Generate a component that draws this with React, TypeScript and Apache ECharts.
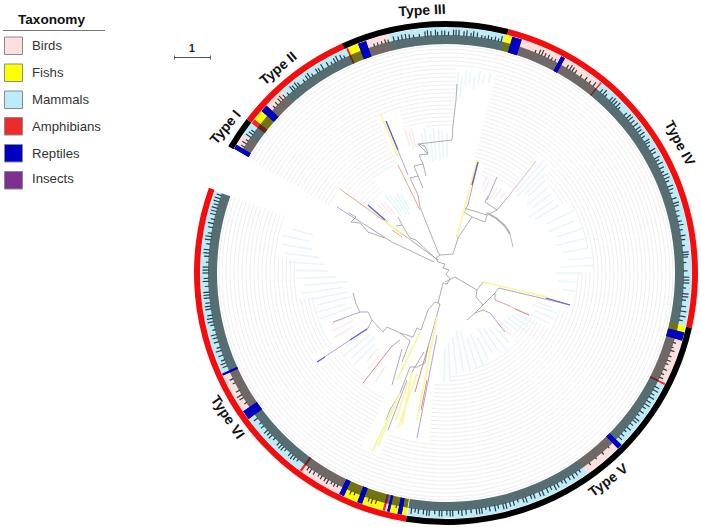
import React, { useEffect, useRef } from "react";
import * as echarts from "echarts";

const taxa = ["Birds", "Fishs", "Mammals", "Amphibians", "Reptiles", "Insects"];
const taxaColors = ["#FDE0DD", "#FFFF00", "#BCECFA", "#EE2A2A", "#0000C0", "#7F2F8F"];
const typeLabels = ["Type I", "Type II", "Type III", "Type IV", "Type V", "Type VI"];
const scaleLabel = "1";

// taxon band: [startAngle, endAngle, taxonIndex]
const bandSegments = [
  [300.4, 301.5, 4], [301.5, 304.5, 0], [304.5, 307.6, 2], [307.6, 308.8, 3], [308.8, 311.3, 1], [311.3, 313, 4],
  [313, 318, 0], [318, 336, 2], [336, 336.5, 3], [336.5, 339, 1], [339, 341, 4], [341, 346.5, 0], [346.5, 360, 2],
  [0, 14, 2], [14, 15.7, 1], [15.7, 18, 4], [18, 28, 0], [28, 29, 4], [29, 39, 0], [39, 39.4, 3],
  [39.4, 102.5, 2], [102.5, 104, 1], [104, 106, 4], [106, 116.7, 0], [116.7, 117.2, 3], [117.2, 134.4, 2],
  [134.4, 135.6, 4], [135.6, 144.8, 0], [144.8, 189.1, 2],
  [189.3, 190.4, 1], [190.4, 191.4, 4], [191.4, 193.3, 1], [193.3, 193.9, 4], [193.9, 194.4, 0], [194.4, 195, 3],
  [195, 200, 1], [200, 201.2, 4], [201.2, 204.6, 1], [204.6, 205.8, 4], [205.8, 216, 0], [216, 216.6, 3],
  [216.6, 233.5, 2], [233.5, 235.7, 4], [235.7, 245.3, 0], [245.3, 245.8, 4], [245.8, 289.6, 2],
];

// concentric leaf guides: where they begin, by sector [startAngle, endAngle, innerRadius]
const guideProfile = [
  [300, 309, 134], [309, 322, 104], [322, 336, 120], [336, 344, 172], [344, 352, 150], [352, 360, 145], [0, 3, 145],
  [3, 14, 206], [14, 20, 116], [20, 28, 102], [28, 38, 106], [38, 45, 150], [45, 60, 134], [60, 80, 144],
  [80, 90, 146], [90, 108, 130], [108, 118, 120], [118, 135, 92], [135, 165, 100], [165, 178, 103], [178, 186, 112],
  [186, 192, 172], [192, 200, 170], [200, 206, 195], [206, 218, 140], [218, 233, 132], [233, 238, 158],
  [238, 260, 135], [260, 275, 150], [275, 289.6, 170],
];
const guideRadii = [
  92, 96, 100, 104, 108, 112, 116, 120, 124, 128, 132, 136, 140, 144, 148, 152, 156, 160, 164, 168, 172, 176, 180, 184,
  188, 192, 196, 200, 204, 208, 212, 216, 220, 224, 227,
];

// small tick marks outside the dark band: [angle, length]
const bandTicks = [
  [302, 3], [302.9, 4], [303.7, 2], [304.8, 5], [305.6, 4], [306.3, 3],
  [314, 2], [315, 3], [316, 4], [316.7, 5], [317.5, 3], [318.6, 2], [320, 5], [320.6, 4], [321.4, 5], [322, 3], [323.5, 2], [324.5, 4],
  [325.2, 5], [326, 2], [327.4, 4], [328, 3], [329, 5], [330.4, 4], [331.4, 2], [332.3, 4], [333, 5], [334, 4], [334.8, 2],
  [342.5, 2], [343.4, 2], [344.4, 2], [345.3, 3], [346, 2], [347.4, 4], [348.5, 3], [349.4, 4], [350.3, 4], [351.2, 3], [352.2, 2], [353.6, 2],
  [355, 4], [355.6, 5], [356.4, 4], [357.5, 5], [358, 3], [359, 4], [359.7, 4], [0.6, 3], [1.8, 5], [2.4, 5], [3.1, 5], [4.3, 4], [5, 5], [6, 3],
  [6.6, 5], [7.5, 4], [8.6, 2], [9.4, 2], [10.2, 3], [11, 2], [11.9, 3], [12.7, 2], [13.4, 5],
  [22, 2], [23, 4], [23.7, 5], [24.5, 3], [25.4, 3], [26.3, 2], [27.2, 2], [30.5, 3], [31.3, 5], [32, 4], [32.8, 3], [34.4, 2], [35.8, 3], [37, 2], [38.2, 4],
  [40.5, 3], [41.3, 5], [42, 2], [43.5, 4], [44.2, 5], [44.9, 4], [45.7, 5], [46.4, 2], [48.5, 3], [49.4, 5], [50.1, 5], [51, 4], [52, 5], [53, 5], [53.7, 4],
  [54.6, 5], [55.4, 3], [56.6, 5], [57.2, 4], [58, 2], [59.2, 5], [60, 4], [61.3, 5], [62, 3], [62.9, 5], [64, 4], [65, 2], [65.9, 5], [66.7, 5], [67.5, 3],
  [68.8, 5], [69.6, 4], [70.5, 2], [71.9, 4], [73, 5], [73.7, 4], [75, 3], [76.2, 2], [77.5, 3], [78.4, 4], [79.6, 2], [81, 4], [82, 3], [83.4, 2],
  [85, 5], [85.6, 5], [86.2, 4], [87.5, 2], [89.5, 3], [91, 5], [91.7, 5], [92.4, 5], [93.6, 2], [95, 5], [95.7, 5], [96.5, 3], [98, 4], [99.2, 5], [100.4, 5], [101.4, 3],
  [107, 2], [108.2, 1], [109, 3], [110.4, 2], [111.5, 3], [112.4, 2], [113.8, 3], [115, 2], [116, 3],
  [118.5, 4], [119.4, 5], [120.4, 3], [121.3, 5], [122.4, 4], [123.3, 5], [124.2, 3], [125.4, 4], [126.4, 2], [127.5, 5], [128.2, 4], [129.2, 3], [130.4, 4], [131.4, 2], [132.5, 3], [133.5, 4],
  [137, 1], [139, 2], [141, 1], [143, 2],
  [146, 2], [147, 3], [148, 4], [149, 3], [150.2, 4], [151, 2], [152.2, 4], [153, 5], [154, 3], [155, 4], [156.2, 5], [157, 4], [158.4, 4], [159.2, 3], [160.5, 5], [161.2, 4],
  [162.5, 2], [163.6, 4], [164.5, 4], [165.5, 5], [166.2, 5], [167.4, 3], [168.2, 5], [169.5, 4], [170.4, 2], [171.4, 5], [172, 5], [172.7, 5], [174, 3], [175.2, 4], [176.2, 5], [177, 3],
  [178.4, 5], [179, 5], [179.8, 4], [181, 5], [181.6, 5], [182.7, 3], [184, 5], [184.6, 5], [185.4, 4], [186.6, 4], [187.4, 3], [188.3, 5],
  [192, 2], [197, 3], [198, 4], [198.8, 3], [202.5, 2], [203.5, 3],
  [207, 2], [207.8, 3], [208.6, 2], [209.6, 4], [210.4, 3], [211.4, 3], [212.2, 2], [213.4, 3], [214.4, 4], [215.2, 3],
  [218.4, 2], [219.3, 3], [220, 4], [220.8, 3], [222.2, 2], [223, 4], [223.7, 4], [224.5, 3], [226, 2], [227, 4], [227.8, 3], [228.6, 4], [230, 3], [231, 2], [232.4, 4],
  [237, 2], [238.4, 4], [239.2, 5], [240.4, 3], [242.5, 2], [243.6, 3],
  [247, 4], [247.8, 5], [248.6, 3], [249.8, 4], [251, 5], [251.8, 3], [253.2, 4], [254.2, 4], [255, 5], [256.2, 2], [257.4, 3], [258.2, 5], [259, 5], [259.8, 4],
  [261.3, 5], [262, 5], [262.8, 4], [264, 5], [264.7, 5], [265.4, 5], [266.8, 3], [268, 5], [268.7, 4], [270, 5], [270.7, 5], [271.4, 5], [272.6, 2],
  [274, 4], [274.8, 5], [275.6, 5], [277, 3], [278, 5], [278.8, 5], [279.6, 3], [281, 4], [282, 5], [283, 3], [284.2, 5], [285, 5], [285.8, 5], [286.6, 4], [287.4, 5], [288.2, 5], [289, 4],
];

// pale leaves of the tree: [angle, innerRadius, outerRadius, taxonIndex (0 pink, 2 blue)]
const paleLeaves = [
  [3.5, 182, 202, 2], [4.6, 176, 198, 2], [5.8, 188, 204, 2], [7, 190, 202, 2], [8.4, 186, 200, 2], [9.6, 190, 205, 2], [11, 192, 203, 2], [12.6, 194, 205, 2],
  [344, 132, 150, 0], [345.4, 128, 146, 0], [346.5, 130, 148, 0], [350, 118, 142, 2], [351.5, 116, 146, 2], [353.5, 112, 140, 2], [355, 114, 146, 2], [357, 112, 144, 2], [358.5, 116, 142, 2], [0.5, 116, 140, 2],
  [315, 82, 98, 0], [317, 80, 96, 0], [319, 78, 94, 0], [322, 72, 98, 2], [324, 74, 96, 2], [326, 70, 92, 2], [328, 68, 94, 2], [330, 72, 90, 2],
  [23, 92, 104, 0], [25, 90, 102, 0], [31, 86, 100, 0], [33, 88, 102, 0], [36, 92, 100, 0],
  [39, 100, 135, 2], [41, 108, 150, 2], [43, 104, 148, 2], [45, 110, 140, 2], [47, 112, 136, 2], [50, 106, 134, 2], [53, 108, 132, 2], [56, 100, 130, 2], [59, 104, 132, 2],
  [64, 112, 142, 2], [68, 110, 138, 2], [72, 116, 144, 2], [76, 114, 146, 2], [80, 118, 144, 2], [84, 122, 148, 2], [87, 114, 148, 2], [90, 110, 136, 2], [94, 112, 132, 2], [98, 118, 130, 2],
  [108, 96, 112, 0], [110, 92, 118, 2], [113, 96, 120, 2], [116, 90, 116, 2], [120, 82, 104, 2], [123, 78, 98, 2], [126, 76, 100, 2], [129, 74, 92, 2],
  [132, 70, 88, 0], [134, 72, 90, 0], [138, 72, 94, 2], [142, 70, 100, 2], [146, 66, 96, 2], [150, 64, 92, 2], [154, 72, 96, 2], [158, 66, 100, 2], [162, 68, 100, 2], [166, 60, 102, 2], [170, 58, 100, 2], [174, 64, 102, 2], [178, 70, 108, 2], [181, 76, 110, 2],
  [213, 112, 130, 0], [216, 108, 126, 0], [219, 106, 124, 0], [222, 102, 118, 0], [225, 100, 130, 2], [228, 96, 128, 2], [231, 98, 132, 2], [234, 92, 124, 2],
  [240, 108, 130, 0], [243, 104, 128, 0], [246, 110, 126, 0], [250, 100, 134, 2], [253, 104, 136, 2], [256, 96, 132, 2], [259, 100, 140, 2], [262, 104, 146, 2], [265, 98, 142, 2], [268, 110, 150, 2], [271, 118, 152, 2], [274, 122, 158, 2], [277, 128, 162, 2], [280, 136, 166, 2], [283, 140, 168, 2], [286, 138, 160, 2],
];

// the tree, in the picture's own x/y scale
const grayBranches = [
  [[443, 283], [447, 284], [450, 279], [446, 274], [449, 270], [443, 268], [445, 264], [438, 262], [436, 258], [440, 255], [438, 252]],
  [[440, 255], [453, 254], [458, 238], [456, 235]],
  [[458, 238], [472, 217], [464, 212], [469, 203]],
  [[472, 217], [485, 222], [487, 215], [464, 208]],
  [[487, 215], [497, 210], [485, 202], [488, 196]],
  [[497, 210], [508, 197]],
  [[438, 252], [420, 207], [418, 195], [410, 178], [418, 176], [423, 188]],
  [[418, 176], [414, 166], [423, 164], [426, 176]],
  [[423, 164], [419, 155], [428, 154], [425, 146], [418, 144], [452, 140], [453, 125], [456, 100], [457, 84]],
  [[418, 144], [428, 154]],
  [[412, 241], [438, 260]],
  [[392, 242], [434, 262]],
  [[396, 226], [402, 225], [410, 238], [416, 240], [437, 260]],
  [[402, 225], [398, 217]],
  [[349, 213], [356, 217], [351, 222], [360, 223], [368, 232], [385, 238]],
  [[445, 282], [455, 277], [477, 290], [483, 282]],
  [[477, 290], [476, 297], [483, 305], [495, 293], [499, 288], [503, 289]],
  [[495, 293], [495, 300], [510, 306]],
  [[483, 305], [475, 313], [467, 320]],
  [[475, 313], [483, 310], [490, 313]],
  [[443, 283], [438, 303], [435, 302], [428, 310], [421, 330], [417, 328], [413, 337], [400, 333], [410, 341]],
  [[438, 303], [440, 304], [437, 315]],
  [[400, 333], [387, 327], [383, 332], [372, 320], [368, 312], [360, 312], [356, 304], [353, 293]],
  [[372, 320], [368, 328]],
  [[400, 340], [392, 346]],
  [[410, 341], [402, 362]],
  [[428, 347], [425, 363], [417, 367], [410, 367], [400, 393], [390, 410], [386, 420]],
  [[437, 315], [428, 347]],
];
// thick grey arc leading to the right-hand clade
const thickArc = [[[487, 213], [496, 218], [505, 226], [510, 234]]];
const thinArc = [[[510, 234], [513, 247]]];
const pinkBranches = [[[536, 161], [508, 197]], [[496, 300], [529, 315]]];
const yellowBranches = [
  [[380, 113], [398, 157]], [[383, 220], [402, 235]], [[477, 160], [457, 237]], [[483, 282], [547, 297]],
  [[420, 332], [397, 380]], [[437, 317], [417, 420]], [[417, 373], [398, 428]], [[412, 372], [402, 425]],
  [[400, 393], [372, 452]], [[397, 400], [378, 446]], [[408, 382], [396, 420]], [[530, 293], [560, 302]],
];
const purpleBranches = [
  [[386, 121], [408, 175]], [[478, 162], [468, 205]], [[497, 177], [487, 200]], [[503, 289], [570, 305]],
  [[490, 313], [505, 332]], [[368, 205], [388, 222]], [[360, 312], [333, 322]], [[368, 328], [317, 362]],
  [[402, 349], [392, 385]], [[437, 335], [417, 438]], [[407, 380], [388, 430]], [[424, 352], [412, 372]], [[337, 207], [392, 242]],
];
const deepPurpleBranches = [
  [[478, 162], [472, 185]], [[546, 298], [570, 305]], [[386, 121], [398, 150]], [[368, 205], [385, 220]], [[367, 329], [350, 340]], [[325, 357], [317, 362]],
];
const orangeBranches = [[[340, 189], [412, 241]], [[398, 165], [420, 210]], [[392, 230], [402, 237]]];
const redBranches = [[[392, 346], [363, 383]], [[428, 347], [415, 392]], [[427, 380], [421, 410]], [[529, 315], [515, 309]]];

const polarRow = (r0: number, r1: number, a0: number, a1: number, k: number) => [r0, a0, r1, a1, k];

function sectorRender(colorOf: (k: number) => string) {
  return (_: any, api: any) => {
    const c = api.coord([0, 0]);
    const p0 = api.coord([api.value(0), api.value(1)]);
    const p1 = api.coord([api.value(2), api.value(1)]);
    const start = Math.atan2(p0[1] - c[1], p0[0] - c[0]);
    const sweep = ((api.value(3) - api.value(1)) * Math.PI) / 180;
    return {
      type: "sector",
      shape: {
        cx: c[0],
        cy: c[1],
        r0: Math.hypot(p0[0] - c[0], p0[1] - c[1]),
        r: Math.hypot(p1[0] - c[0], p1[1] - c[1]),
        startAngle: start,
        endAngle: start + sweep,
        clockwise: true,
      },
      style: { fill: colorOf(api.value(4)) },
      silent: true,
    };
  };
}

function radialRender(colorOf: (k: number) => string, width: number) {
  return (_: any, api: any) => {
    const p0 = api.coord([api.value(0), api.value(1)]);
    const p1 = api.coord([api.value(2), api.value(1)]);
    return {
      type: "line",
      shape: { x1: p0[0], y1: p0[1], x2: p1[0], y2: p1[1] },
      style: { stroke: colorOf(api.value(3)), lineWidth: width },
      silent: true,
    };
  };
}

function polarSeries(data: number[][], renderItem: any) {
  return {
    type: "custom",
    coordinateSystem: "polar",
    encode: { radius: 0, angle: 1 },
    data,
    renderItem,
    clip: false,
    silent: true,
    animation: false,
  };
}

function treeSeries(lines: number[][][], color: string, width: number, opacity = 1) {
  return {
    type: "custom",
    coordinateSystem: "cartesian2d",
    encode: { x: 0, y: 1 },
    data: lines.map((l, i) => [l[0][0], l[0][1], i]),
    clip: false,
    silent: true,
    animation: false,
    renderItem: (_: any, api: any) => ({
      type: "polyline",
      shape: { points: lines[api.value(2)].map((p) => api.coord(p)) },
      style: { stroke: color, fill: "none", lineWidth: width, opacity, lineJoin: "round" },
      silent: true,
    }),
  };
}

function buildGuides() {
  const rows: number[][] = [];
  for (const [a0, a1, inner] of guideProfile) {
    for (const r of guideRadii) {
      if (r >= inner) rows.push([r, a0, a1]);
    }
  }
  return rows;
}

function buildGraphic() {
  const els: any[] = [];
  const font = "Liberation Sans, Arial, sans-serif";
  els.push({
    type: "text", x: 18, y: 12,
    style: { text: "Taxonomy", font: `bold 13.6px ${font}`, fill: "#111" },
  });
  els.push({ type: "line", shape: { x1: 3, y1: 30.5, x2: 105, y2: 30.5 }, style: { stroke: "#777", lineWidth: 1 } });
  const rowY = [37, 64, 91, 117.5, 144.5, 171.5];
  const textY = [45, 72, 99, 126, 153, 178];
  taxa.forEach((t, i) => {
    els.push({
      type: "rect",
      shape: { x: 4.5, y: rowY[i], width: 18, height: 17.5 },
      style: { fill: taxaColors[i], stroke: "#8a8a8a", lineWidth: 1 },
    });
    els.push({
      type: "text", x: 32, y: textY[i],
      style: { text: t, font: `13.2px ${font}`, fill: "#333", verticalAlign: "middle" },
    });
  });
  els.push({ type: "line", shape: { x1: 174, y1: 57.5, x2: 210, y2: 57.5 }, style: { stroke: "#555", lineWidth: 1 } });
  els.push({ type: "line", shape: { x1: 174.5, y1: 55.5, x2: 174.5, y2: 59.5 }, style: { stroke: "#555", lineWidth: 1 } });
  els.push({ type: "line", shape: { x1: 210.5, y1: 55.5, x2: 210.5, y2: 59.5 }, style: { stroke: "#555", lineWidth: 1 } });
  els.push({
    type: "text", x: 192, y: 48,
    style: { text: scaleLabel, font: `bold 10.5px ${font}`, fill: "#222", align: "center", verticalAlign: "middle" },
  });
  const placed: [number, number, number][] = [
    [225, 127, 50], [278, 68, 40], [422, 10, 3], [680, 143, -62], [608, 480, 37], [228, 417, -56],
  ];
  typeLabels.forEach((t, i) => {
    const [x, y, deg] = placed[i];
    els.push({
      type: "text", x, y, rotation: (deg * Math.PI) / 180,
      style: { text: t, font: `bold 14px ${font}`, fill: "#111", align: "center", verticalAlign: "middle" },
    });
  });
  return els;
}

export default function App() {
  const ref = useRef<HTMLDivElement>(null);
  useEffect(() => {
    if (!ref.current) return;
    const chart = echarts.init(ref.current, undefined, { renderer: "svg" });
    const guides = buildGuides();
    const arcRender = (_: any, api: any) => {
      const c = api.coord([0, 0]);
      const p0 = api.coord([api.value(0), api.value(1)]);
      const start = Math.atan2(p0[1] - c[1], p0[0] - c[0]);
      const sweep = ((api.value(2) - api.value(1)) * Math.PI) / 180;
      return {
        type: "arc",
        shape: {
          cx: c[0], cy: c[1], r: Math.hypot(p0[0] - c[0], p0[1] - c[1]),
          startAngle: start, endAngle: start + sweep, clockwise: true,
        },
        style: { stroke: "#efefef", fill: "none", lineWidth: 1 },
        silent: true,
      };
    };
    chart.setOption({
      animation: false,
      backgroundColor: "#ffffff",
      grid: { left: 0, right: 0, top: 0, bottom: 0 },
      xAxis: { type: "value", min: 0, max: 701, show: false },
      yAxis: { type: "value", min: 0, max: 527, inverse: true, show: false },
      polar: { center: [446, 273], radius: 252 },
      radiusAxis: { type: "value", min: 0, max: 252, show: false },
      angleAxis: { type: "value", min: 0, max: 360, startAngle: 90, clockwise: true, show: false },
      graphic: buildGraphic(),
      series: [
        polarSeries(guides, arcRender),
        polarSeries(paleLeaves.map((l) => [l[1], l[0], l[2], l[3]]), radialRender((k) => (k === 0 ? "#fcecec" : "#e8f6fb"), 1.6)),
        treeSeries(grayBranches, "#9a9a9a", 0.8),
        treeSeries(thickArc, "#b0b0b0", 1.8),
        treeSeries(thinArc, "#a8a8a8", 0.8),
        treeSeries(pinkBranches, "#ecc0bc", 1),
        treeSeries(orangeBranches, "#e8aa88", 1),
        treeSeries(redBranches, "#d08080", 0.9),
        treeSeries(yellowBranches, "#faf6a8", 1.8),
        treeSeries(purpleBranches, "#a59ad0", 0.9),
        treeSeries(deepPurpleBranches, "#6a60c0", 1.3),
        polarSeries(bandSegments.map((s) => polarRow(229, 245.5, s[0], s[1], s[2])), sectorRender((k) => taxaColors[k])),
        polarSeries(bandTicks.map((t) => [237.5, t[0], 238.5 + t[1]]), radialRender(() => "#2f3a40", 1.2)),
        polarSeries([polarRow(229, 238, 300.4, 360, 0), polarRow(229, 238, 0, 189.1, 0), polarRow(229, 238, 189.3, 289.6, 0)], sectorRender(() => "rgba(25,30,30,0.62)")),
        polarSeries(bandSegments.filter((s) => s[2] === 4).map((s) => polarRow(229, 245.5, s[0], s[1], s[2])), sectorRender((k) => taxaColors[k])),
        polarSeries(
          [
            polarRow(246, 252, 300.2, 307.7, 1), polarRow(246, 252, 307.7, 335.6, 0),
            polarRow(246, 252, 335.6, 360, 1), polarRow(246, 252, 0, 14.4, 1),
            polarRow(246, 252, 14.4, 102.6, 0), polarRow(246, 252, 102.6, 189.2, 1), polarRow(246, 252, 189.2, 289.8, 0),
          ],
          sectorRender((k) => (k === 1 ? "#000000" : "#f40d0d"))
        ),
      ],
    });
    return () => chart.dispose();
  }, []);
  return <div ref={ref} style={{ position: "absolute", left: 0, top: 0, width: 701, height: 527 }} />;
}
